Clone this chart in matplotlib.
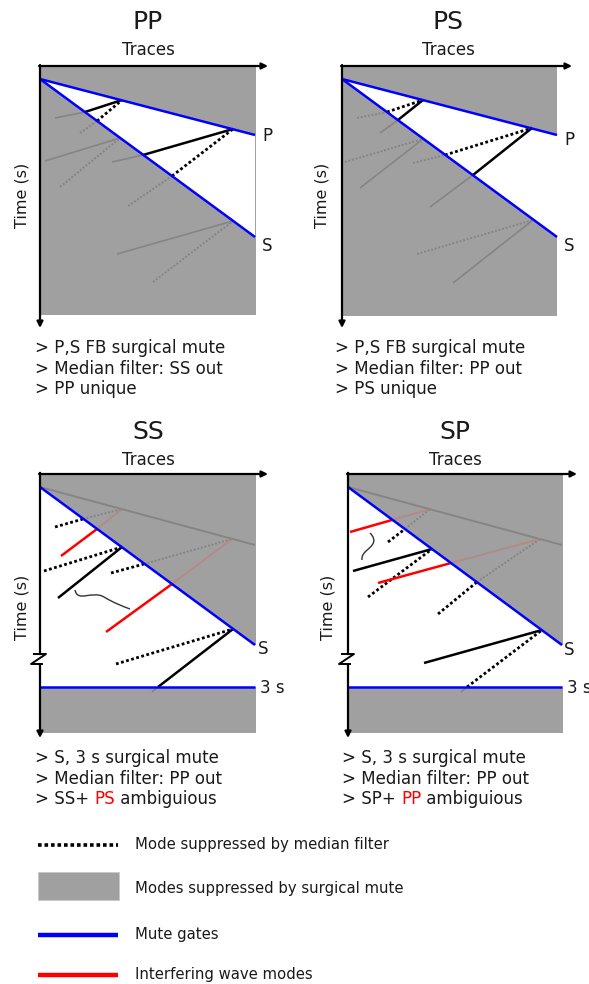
import matplotlib
matplotlib.use("Agg")
import matplotlib.pyplot as plt
from matplotlib.patches import Polygon, Rectangle, PathPatch
from matplotlib.path import Path

# canvas units are pixels, y grows downward
W, H = 589, 984

GRAY = "#a0a0a0"
GHOST = "#858585"
BLUE = "#0000ff"
RED = "#ff0000"
INK = "#1a1a1a"

# ── panel frames: (x0, y0, x1, y1) of the shaded area, axis tips
PP_FRAME = (40, 66, 256, 315)
PS_FRAME = (342, 66, 557, 316)
SS_FRAME = (40, 474, 256, 733)
SP_FRAME = (348, 474, 563, 733)

# ── mute gates (apex -> end)
PP_P_GATE = [(40, 79), (255, 135)]
PP_S_GATE = [(40, 79), (255, 237)]
PS_P_GATE = [(342, 79), (557, 135)]
PS_S_GATE = [(342, 79), (557, 237)]
SS_P_FADED = [(40, 487), (255, 545)]
SS_S_GATE = [(40, 487), (255, 645)]
SP_P_FADED = [(348, 487), (562, 545)]
SP_S_GATE = [(348, 487), (562, 645)]
SS_3S_Y = 687
SP_3S_Y = 687

# ── wave-mode segments
PP_SOLID = [[(85, 112), (122, 100)], [(143, 155), (233, 129)]]
PP_DOTTED = [[(97, 121), (122, 100)], [(172, 176), (233, 129)]]
PP_GHOST_SOLID = [[(55, 118), (85, 112)], [(112, 162), (143, 155)],
                  [(45, 161), (120, 138)], [(117, 254), (233, 221)]]
PP_GHOST_DOTTED = [[(80, 133), (97, 121)], [(128, 206), (172, 176)],
                   [(60, 187), (120, 138)], [(153, 282), (233, 221)]]

PS_SOLID = [[(398, 120), (423, 100)], [(473, 175), (532, 128)]]
PS_DOTTED = [[(387, 112), (423, 100)], [(445, 155), (532, 128)]]
PS_GHOST_SOLID = [[(380, 133), (398, 120)], [(430, 207), (473, 175)],
                  [(360, 188), (423, 139)], [(453, 283), (533, 220)]]
PS_GHOST_DOTTED = [[(357, 118), (387, 112)], [(413, 163), (445, 155)],
                   [(345, 162), (423, 139)], [(417, 254), (533, 220)]]

SS_SOLID = [[(58, 598), (122, 547)], [(158, 687), (233, 629)]]
SS_DOTTED = [[(55, 527), (83, 519)], [(44, 571), (122, 547)],
             [(111, 573), (144, 564)], [(116, 664), (233, 629)]]
SS_RED = [[(61, 556), (97, 529)], [(106, 632), (172, 584)]]
SS_GHOST_SOLID = [[(152, 692), (158, 687)]]
SS_GHOST_DOTTED = [[(83, 519), (122, 509)], [(144, 564), (232, 539)]]
SS_GHOST_RED = [[(97, 529), (122, 509)], [(172, 584), (232, 539)]]
SS_SQUIGGLE = [(75, 590), (78, 603), (92, 590), (104, 597),
               (114, 603), (122, 606), (130, 609)]

SP_SOLID = [[(353, 571), (432, 549)], [(424, 663), (542, 630)]]
SP_DOTTED = [[(388, 542), (405, 529)], [(368, 597), (432, 549)],
             [(438, 614), (477, 582)], [(467, 687), (542, 630)]]
SP_RED = [[(350, 532), (392, 520)], [(378, 583), (451, 563)]]
SP_GHOST_SOLID = [[(461, 692), (467, 687)]]
SP_GHOST_DOTTED = [[(405, 529), (430, 509)], [(477, 582), (540, 539)]]
SP_GHOST_RED = [[(392, 520), (430, 509)], [(451, 563), (540, 539)]]
SP_SQUIGGLE = [(370, 533), (378, 541), (372, 546), (366, 551),
               (361, 556), (362, 558), (362, 560)]

# ── text
TITLES = ["PP", "PS", "SS", "SP"]
PP_NOTES = ["> P,S FB surgical mute", "> Median filter: SS out", "> PP unique"]
PS_NOTES = ["> P,S FB surgical mute", "> Median filter: PP out", "> PS unique"]
SS_NOTES = ["> S, 3 s surgical mute", "> Median filter: PP out", ("> SS+ ", "PS", " ambiguious")]
SP_NOTES = ["> S, 3 s surgical mute", "> Median filter: PP out", ("> SP+ ", "PP", " ambiguious")]
LEGEND_LABELS = ["Mode suppressed by median filter", "Modes suppressed by surgical mute",
                 "Mute gates", "Interfering wave modes"]

fig = plt.figure(figsize=(W / 100, H / 100), dpi=100)
ax = fig.add_axes([0, 0, 1, 1])
ax.set_xlim(0, W)
ax.set_ylim(H, 0)
ax.axis("off")

DOT = (0, (1, 0.9))
NOTE_FS = 12
LABEL_FS = 12


def segs(lines, **kw):
    for (a, b) in lines:
        ax.plot([a[0], b[0]], [a[1], b[1]], solid_capstyle="butt",
                dash_capstyle="butt", **kw)


def axes_arrows(x0, y0, xtip, ytip, brk=None):
    ax.annotate("", xy=(xtip, y0), xytext=(x0 - 1, y0),
                arrowprops=dict(arrowstyle="-|>", lw=1.6, color="black",
                                mutation_scale=9, shrinkA=0, shrinkB=0))
    if brk is None:
        ax.annotate("", xy=(x0, ytip), xytext=(x0, y0 - 1),
                    arrowprops=dict(arrowstyle="-|>", lw=1.6, color="black",
                                    mutation_scale=9, shrinkA=0, shrinkB=0))
    else:
        b0, b1 = brk
        ax.plot([x0, x0], [y0 - 1, b0], color="black", lw=1.6)
        ax.plot([x0 - 6, x0 + 6, x0 - 9, x0 + 2], [b0, b0, b1, b1],
                color="black", lw=1.4)
        ax.annotate("", xy=(x0, ytip), xytext=(x0, b1),
                    arrowprops=dict(arrowstyle="-|>", lw=1.6, color="black",
                                    mutation_scale=9, shrinkA=0, shrinkB=0))


def notes(x, y0, lines):
    for i, line in enumerate(lines):
        y = y0 + i * 20.5
        if isinstance(line, tuple):
            t = ax.text(x, y, line[0], fontsize=NOTE_FS, color=INK, va="center")
            t2 = ax.annotate(line[1], xy=(1, 0), xycoords=t, va="bottom",
                             ha="left", fontsize=NOTE_FS, color=RED)
            ax.annotate(line[2], xy=(1, 0), xycoords=t2, va="bottom",
                        ha="left", fontsize=NOTE_FS, color=INK)
        else:
            ax.text(x, y, line, fontsize=NOTE_FS, color=INK, va="center")


def header(cx, title, time_x, time_y, y_title, y_traces):
    ax.text(cx, y_title, title, fontsize=18, ha="center", va="center", color=INK)
    ax.text(cx, y_traces, "Traces", fontsize=12, ha="center", va="center", color=INK)
    ax.text(time_x, time_y, "Time (s)", fontsize=11.5, ha="center", va="center",
            rotation=90, color=INK)


def squiggle(pts):
    codes = [Path.MOVETO] + [Path.CURVE4] * (len(pts) - 1)
    ax.add_patch(PathPatch(Path(pts, codes), fill=False, lw=1.0,
                           edgecolor="#333333"))


# ── PP ───────────────────────────────────────
x0, y0, x1, y1 = PP_FRAME
ax.add_patch(Rectangle((x0, y0), x1 - x0, y1 - y0, color=GRAY, lw=0))
ax.add_patch(Polygon([PP_P_GATE[0], PP_P_GATE[1], PP_S_GATE[1]], color="white", lw=0))
segs(PP_GHOST_SOLID, color=GHOST, lw=1.2)
segs(PP_GHOST_DOTTED, color=GHOST, lw=1.4, linestyle=DOT)
segs(PP_SOLID, color="black", lw=1.8)
segs(PP_DOTTED, color="black", lw=2.0, linestyle=DOT)
segs([PP_P_GATE, PP_S_GATE], color=BLUE, lw=1.8)
axes_arrows(x0, y0, 268, 328)
ax.text(262, 136, "P", fontsize=LABEL_FS, va="center", color=INK)
ax.text(262, 246, "S", fontsize=LABEL_FS, va="center", color=INK)
header(148, TITLES[0], 22, 195, 22, 50)
notes(35, 348, PP_NOTES)

# ── PS ───────────────────────────────────────
x0, y0, x1, y1 = PS_FRAME
ax.add_patch(Rectangle((x0, y0), x1 - x0, y1 - y0, color=GRAY, lw=0))
ax.add_patch(Polygon([PS_P_GATE[0], PS_P_GATE[1], PS_S_GATE[1]], color="white", lw=0))
segs(PS_GHOST_SOLID, color=GHOST, lw=1.2)
segs(PS_GHOST_DOTTED, color=GHOST, lw=1.4, linestyle=DOT)
segs(PS_SOLID, color="black", lw=1.8)
segs(PS_DOTTED, color="black", lw=2.0, linestyle=DOT)
segs([PS_P_GATE, PS_S_GATE], color=BLUE, lw=1.8)
axes_arrows(x0, y0, 572, 328)
ax.text(564, 140, "P", fontsize=LABEL_FS, va="center", color=INK)
ax.text(564, 246, "S", fontsize=LABEL_FS, va="center", color=INK)
header(448, TITLES[1], 322, 195, 22, 50)
notes(335, 348, PS_NOTES)

# ── SS ───────────────────────────────────────
x0, y0, x1, y1 = SS_FRAME
ax.add_patch(Polygon([(x0, y0), (x1, y0), (x1, SS_S_GATE[1][1]),
                      SS_S_GATE[1], SS_S_GATE[0]], color=GRAY, lw=0))
ax.add_patch(Rectangle((x0, SS_3S_Y), x1 - x0, y1 - SS_3S_Y, color=GRAY, lw=0))
segs([SS_P_FADED], color=GHOST, lw=1.4)
segs(SS_GHOST_DOTTED, color=GHOST, lw=1.4, linestyle=DOT)
segs(SS_GHOST_RED, color="#c07a7a", lw=1.4, alpha=0.6)
segs(SS_GHOST_SOLID, color=GHOST, lw=1.2)
segs(SS_SOLID, color="black", lw=1.8)
segs(SS_DOTTED, color="black", lw=2.0, linestyle=DOT)
segs(SS_RED, color=RED, lw=1.8)
squiggle(SS_SQUIGGLE)
segs([SS_S_GATE, [(x0, SS_3S_Y), (255, SS_3S_Y)]], color=BLUE, lw=1.8)
axes_arrows(x0, y0, 268, 738, brk=(654, 664))
ax.text(258, 649, "S", fontsize=LABEL_FS, va="center", color=INK)
ax.text(260, 688, "3 s", fontsize=LABEL_FS, va="center", color=INK)
header(148, TITLES[2], 22, 607, 432, 460)
notes(35, 758, SS_NOTES)

# ── SP ───────────────────────────────────────
x0, y0, x1, y1 = SP_FRAME
ax.add_patch(Polygon([(x0, y0), (x1, y0), (x1, SP_S_GATE[1][1]),
                      SP_S_GATE[1], SP_S_GATE[0]], color=GRAY, lw=0))
ax.add_patch(Rectangle((x0, SP_3S_Y), x1 - x0, y1 - SP_3S_Y, color=GRAY, lw=0))
segs([SP_P_FADED], color=GHOST, lw=1.4)
segs(SP_GHOST_DOTTED, color=GHOST, lw=1.4, linestyle=DOT)
segs(SP_GHOST_RED, color="#c07a7a", lw=1.4, alpha=0.6)
segs(SP_GHOST_SOLID, color=GHOST, lw=1.2)
segs(SP_SOLID, color="black", lw=1.8)
segs(SP_DOTTED, color="black", lw=2.0, linestyle=DOT)
segs(SP_RED, color=RED, lw=1.8)
squiggle(SP_SQUIGGLE)
segs([SP_S_GATE, [(x0, SP_3S_Y), (562, SP_3S_Y)]], color=BLUE, lw=1.8)
axes_arrows(x0, y0, 577, 738, brk=(654, 664))
ax.text(564, 650, "S", fontsize=LABEL_FS, va="center", color=INK)
ax.text(567, 688, "3 s", fontsize=LABEL_FS, va="center", color=INK)
header(455, TITLES[3], 328, 607, 432, 460)
notes(342, 758, SP_NOTES)

# ── legend ───────────────────────────────────
ax.plot([38, 118], [845, 845], color="black", lw=2.6, linestyle=(0, (1, 0.8)),
        dash_capstyle="butt")
ax.add_patch(Rectangle((38, 872), 81, 28, facecolor=GRAY, edgecolor="#c8c8c8", lw=0.6))
ax.plot([38, 118], [935, 935], color=BLUE, lw=3.2, solid_capstyle="butt")
ax.plot([38, 118], [975, 975], color=RED, lw=3.2, solid_capstyle="butt")
for y, label in zip([845, 889, 935, 975], LEGEND_LABELS):
    ax.text(135, y, label, fontsize=10.7, va="center", color=INK)

fig.savefig("out.png", dpi=100)
